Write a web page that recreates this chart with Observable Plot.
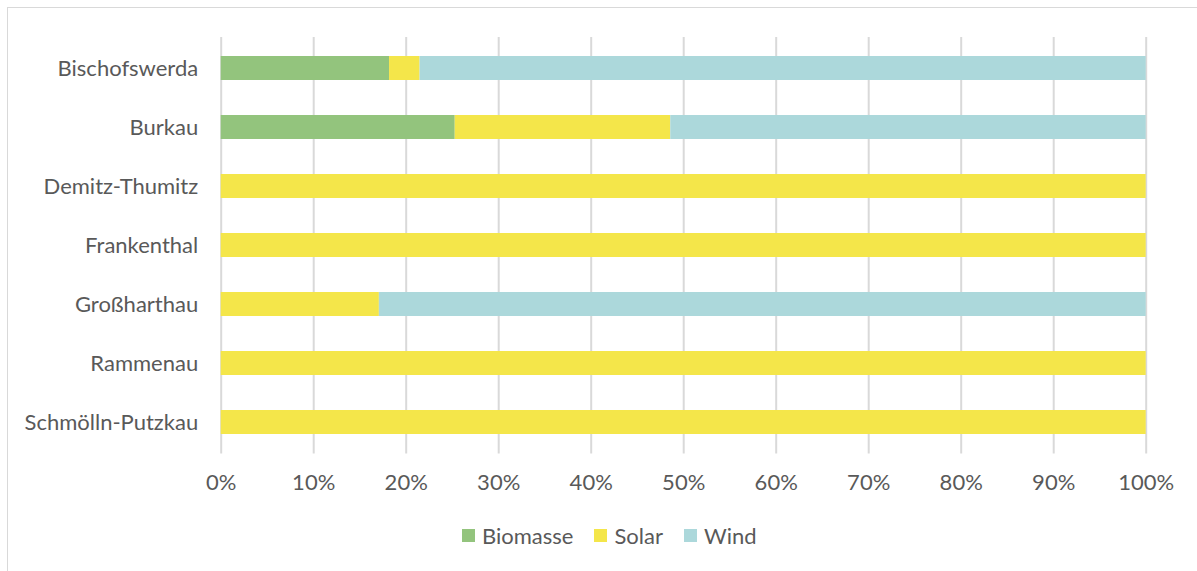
<!DOCTYPE html>
<html>
<head>
<meta charset="utf-8">
<script src="https://cdn.jsdelivr.net/npm/d3@7"></script>
<script src="https://cdn.jsdelivr.net/npm/@observablehq/plot@0.6"></script>
<style>
  html, body { margin: 0; padding: 0; background: #fff; overflow: hidden; width: 1197px; height: 571px; }
  #frame { position: absolute; left: 7px; top: 7px; width: 1400px; height: 800px; border: 1.5px solid #d9d9d9; box-sizing: border-box; }
  #chart { position: absolute; left: 0; top: 0; }
  #legend { position: absolute; left: 462px; top: 522px; display: flex; align-items: center; font-family: Lato, sans-serif; font-size: 22px; color: #595959; }
  #legend .item { display: flex; align-items: center; margin-right: 21px; }
  #legend .sw { width: 13px; height: 13px; margin-right: 7px; }
</style>
</head>
<body>
<div id="frame"></div>
<div id="chart"></div>
<div id="legend"></div>
<script>
const places = ["Bischofswerda", "Burkau", "Demitz-Thumitz", "Frankenthal", "Großharthau", "Rammenau", "Schmölln-Putzkau"];
const biomasse = [18.2, 25.3, 0, 0, 0, 0, 0];
const solar = [3.3, 23.3, 100, 100, 17.1, 100, 100];
const wind = [78.5, 51.4, 0, 0, 82.9, 0, 0];
const sources = ["Biomasse", "Solar", "Wind"];
const colors = ["#93C47D", "#F4E64A", "#ACD8DB"];
const xTicks = [0, 10, 20, 30, 40, 50, 60, 70, 80, 90, 100];

const seriesBySource = {Biomasse: biomasse, Solar: solar, Wind: wind};
const rows = [];
sources.forEach(s => places.forEach((p, i) => rows.push({place: p, source: s, value: seriesBySource[s][i]})));

const chart = Plot.plot({
  width: 1197,
  height: 500,
  marginLeft: 220.7,
  marginRight: 51.3,
  marginTop: 37,
  marginBottom: 46.5,
  style: {fontFamily: "Lato, sans-serif", fontSize: "22px", color: "#595959", background: "transparent"},
  x: {domain: [0, 100], ticks: xTicks, tickFormat: d => d + "%", label: null, tickSize: 0, tickPadding: 20},
  y: {domain: places, paddingInner: 0.6, paddingOuter: 0.3, label: null, tickSize: 0, tickPadding: 23},
  color: {domain: sources, range: colors},
  marks: [
    Plot.ruleX(xTicks, {stroke: "#d9d9d9", strokeWidth: 2}),
    Plot.barX(rows, Plot.stackX({x: "value", y: "place", fill: "source", order: sources}))
  ]
});
document.getElementById("chart").appendChild(chart);

const legend = document.getElementById("legend");
sources.forEach((s, i) => {
  const item = document.createElement("div");
  item.className = "item";
  const sw = document.createElement("span");
  sw.className = "sw";
  sw.style.background = colors[i];
  const t = document.createElement("span");
  t.textContent = s;
  item.appendChild(sw);
  item.appendChild(t);
  legend.appendChild(item);
});
</script>
</body>
</html>
